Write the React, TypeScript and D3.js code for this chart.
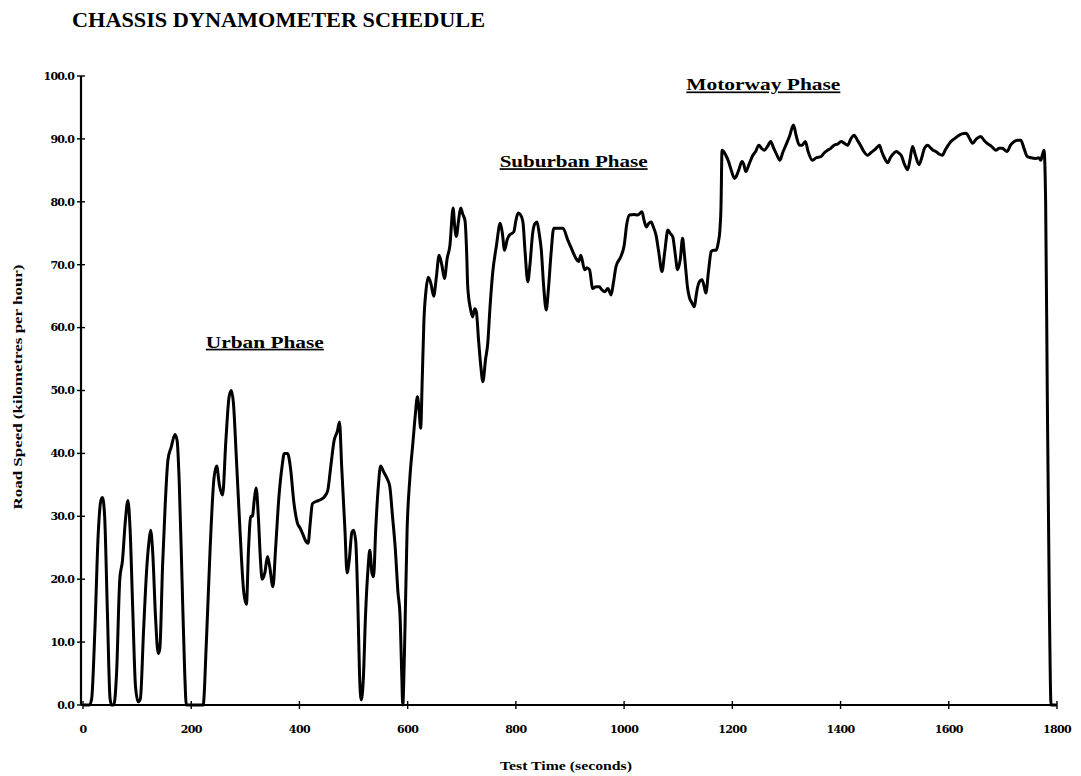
import React from 'react';
import * as d3 from 'd3';

// [time (s), road speed (km/h)]
const urbanPhase: [number, number][] = [
  [0, 0], [12, 0], [16, 1], [22, 12], [28, 27], [33, 32.5], [36, 33], [40, 30], [45, 15], [50, 1], [53, 0],
  [57, 0], [62, 5], [68, 20], [73, 23], [78, 29], [83, 32.5], [87, 28], [92, 15], [97, 3], [102, 0.5],
  [106, 1], [112, 12], [118, 22], [122, 26], [125, 27.8], [129, 24], [134, 14], [139, 8.2], [142, 9],
  [147, 22], [152, 32], [157, 39], [163, 41], [170, 43], [174, 42], [178, 35], [183, 20], [188, 5], [191, 0],
  [222, 0], [228, 10], [235, 25], [242, 36], [247, 38], [252, 35], [258, 33.4], [264, 42], [270, 49],
  [274, 50], [278, 48], [283, 40], [290, 28], [297, 18], [302, 16], [306, 25], [310, 30], [313, 30],
  [317, 33], [320, 34.5], [324, 30], [328, 23], [331, 20], [336, 21], [341, 23.6], [345, 22], [351, 18.8],
  [356, 25], [362, 33], [368, 38], [372, 40], [378, 40], [383, 38], [390, 32], [396, 29], [402, 28],
  [407, 27], [412, 26], [416, 25.7], [420, 29], [424, 32], [435, 32.5], [445, 33], [452, 34], [458, 38],
  [464, 42], [470, 43.5], [474, 45], [478, 38], [484, 28], [488, 21], [492, 23], [497, 27.5], [500, 27.8],
  [504, 26], [508, 16], [511, 5], [514, 0.8], [518, 4], [522, 14], [527, 22], [530, 24.6], [534, 21],
  [537, 20.4], [541, 28], [546, 35], [550, 38], [556, 37], [562, 36], [567, 34.7], [572, 30], [577, 25],
  [582, 18], [586, 14], [589, 5], [591, 0],
];

const suburbanPhase: [number, number][] = [
  [594, 8], [599, 28], [604, 36], [610, 42], [614, 46], [618, 49], [621, 47], [624, 44], [627, 52],
  [630, 61], [634, 66], [638, 68], [643, 67], [648, 65], [653, 68], [658, 71.5], [663, 70], [668, 67.8],
  [673, 71], [678, 73], [684, 79], [687, 76], [690, 74.5], [694, 77], [698, 79], [702, 78], [706, 77],
  [709, 72], [711, 66.5], [716, 63], [720, 61.7], [724, 63], [727, 62.5], [731, 58], [735, 54], [739, 51.4],
  [744, 55], [748, 57.5], [752, 63], [757, 68.6], [764, 73], [771, 76.6], [775, 75], [779, 72.3], [784, 74],
  [788, 74.7], [796, 75.2], [800, 77], [804, 78.2], [808, 78], [813, 76.8], [817, 72], [822, 67.3],
  [826, 70], [831, 75], [835, 76.5], [839, 76.8], [843, 75], [847, 72.3], [851, 67], [856, 62.8], [860, 66],
  [865, 71.8], [870, 75.8], [878, 75.8], [887, 75.8], [896, 73.9], [903, 72.5], [911, 71], [916, 70.5],
  [920, 71.5], [927, 69.2], [931, 69.5], [936, 69.2], [942, 66.2], [948, 66.5], [954, 66.5], [959, 66],
  [964, 65.7], [970, 66.2], [976, 65.2], [980, 67], [985, 69.7], [994, 71.3], [1000, 73], [1005, 76.5],
  [1010, 77.9], [1018, 78], [1025, 77.9], [1033, 78.4], [1037, 77], [1041, 76], [1045, 76.5], [1050, 76.8],
  [1054, 76], [1059, 74.7], [1064, 72], [1070, 68.9], [1075, 72], [1081, 75.5], [1085, 75], [1090, 74.4],
  [1094, 72], [1099, 69.2], [1104, 71], [1108, 74.2], [1111, 72], [1114, 69.2], [1117, 66.5], [1121, 64.7],
  [1125, 64], [1130, 63.3], [1133, 65], [1136, 66.5], [1140, 67.4], [1144, 67.6], [1148, 66.5], [1151, 65.5],
  [1156, 69], [1161, 72.1], [1165, 72.3], [1170, 72.3], [1174, 73.5], [1177, 75.5], [1179, 79],
];

const motorwayPhase: [number, number][] = [
  [1181, 88.2], [1184, 88], [1188, 87.4], [1193, 86.4], [1198, 85], [1204, 83.7], [1207, 84], [1212, 85.1],
  [1218, 86.4], [1221, 86], [1225, 84.8], [1231, 86], [1238, 87.4], [1243, 88], [1249, 89], [1254, 88.5],
  [1259, 88.2], [1265, 88.8], [1271, 89.6], [1276, 88.6], [1282, 87.5], [1288, 86.6], [1293, 87.8],
  [1299, 89], [1306, 90.5], [1313, 92.2], [1318, 90.5], [1324, 89], [1329, 89], [1335, 89.6], [1340, 88],
  [1348, 86.6], [1355, 87], [1364, 87.2], [1370, 87.8], [1376, 88.2], [1382, 88.5], [1388, 89], [1395, 89.2],
  [1401, 89.6], [1407, 89.3], [1413, 89], [1419, 90], [1425, 90.6], [1431, 89.8], [1438, 88.8], [1443, 88],
  [1450, 87.4], [1456, 87.8], [1462, 88.2], [1467, 88.6], [1472, 89], [1476, 88], [1481, 87], [1487, 86.2],
  [1492, 87], [1497, 87.6], [1503, 88], [1507, 87.8], [1512, 87.4], [1518, 86], [1524, 85.1], [1528, 86.5],
  [1533, 88.8], [1538, 87.5], [1545, 85.9], [1550, 87], [1555, 88.5], [1561, 89], [1566, 88.6], [1571, 88.2],
  [1576, 88], [1582, 87.6], [1588, 87.4], [1594, 88.3], [1599, 89], [1604, 89.6], [1610, 90], [1616, 90.4],
  [1624, 90.8], [1632, 90.9], [1637, 90.3], [1644, 89.3], [1651, 90], [1659, 90.4], [1665, 89.8],
  [1671, 89.3], [1679, 88.8], [1687, 88.2], [1693, 88.5], [1699, 88.5], [1704, 88.2], [1708, 88],
  [1714, 89], [1721, 89.6], [1727, 89.8], [1733, 89.8], [1739, 88.5], [1745, 87.2], [1752, 87], [1761, 86.9],
  [1766, 87], [1770, 86.6], [1773, 87.5], [1776, 88.2], [1779, 80], [1782, 50], [1786, 15], [1789, 0], [1800, 0],
];

const xTicks = [0, 200, 400, 600, 800, 1000, 1200, 1400, 1600, 1800];
const yTicks = [0, 10, 20, 30, 40, 50, 60, 70, 80, 90, 100];

const phaseLabels = [
  { text: 'Urban Phase', t: 227, v: 56.8, width: 118 },
  { text: 'Suburban Phase', t: 770, v: 85.5, width: 148 },
  { text: 'Motorway Phase', t: 1115, v: 97.7, width: 154 },
];

const serif = '"Liberation Serif", "DejaVu Serif", serif';
const tickFont = '"DejaVu Serif", serif';

export default function App() {
  const x = d3.scaleLinear().domain([0, 1800]).range([83, 1057]);
  const y = d3.scaleLinear().domain([0, 100]).range([705, 76]);

  const data = [...urbanPhase, ...suburbanPhase, ...motorwayPhase];
  const line = d3
    .line<[number, number]>()
    .x((d) => x(d[0]))
    .y((d) => y(d[1]))
    .curve(d3.curveMonotoneX);

  return (
    <svg
      width={1081}
      height={776}
      style={{ position: 'absolute', left: 0, top: 0, background: '#fff' }}
    >
      <text x={72} y={27} fontFamily={serif} fontWeight="bold" fontSize={22} textLength={413} lengthAdjust="spacingAndGlyphs">
        CHASSIS DYNAMOMETER SCHEDULE
      </text>

      {/* y axis */}
      <line x1={x(0) - 2} x2={x(0) - 2} y1={y(100)} y2={y(0)} stroke="#000" strokeWidth={2.2} />
      {yTicks.map((t) => (
        <g key={t}>
          <line x1={x(0) - 6} x2={x(0) + 2} y1={y(t)} y2={y(t)} stroke="#000" strokeWidth={1.4} />
          <text
            x={x(0) - 9}
            y={y(t)}
            dy="0.35em"
            textAnchor="end"
            fontFamily={tickFont}
            fontWeight="bold"
            fontSize={11}
            letterSpacing={-0.8}
          >
            {t.toFixed(1)}
          </text>
        </g>
      ))}

      {/* x axis */}
      <line x1={x(0) - 2} x2={x(1800)} y1={y(0)} y2={y(0)} stroke="#000" strokeWidth={2.2} />
      {xTicks.map((t) => (
        <g key={t}>
          <line x1={x(t)} x2={x(t)} y1={y(0) - 4} y2={y(0) + 4} stroke="#000" strokeWidth={1.4} />
          <text
            x={x(t)}
            y={733}
            textAnchor="middle"
            fontFamily={tickFont}
            fontWeight="bold"
            fontSize={11}
            letterSpacing={-0.6}
          >
            {t}
          </text>
        </g>
      ))}

      <path d={line(data) ?? ''} fill="none" stroke="#000" strokeWidth={3} strokeLinejoin="round" />

      {phaseLabels.map((p) => (
        <text
          key={p.text}
          x={x(p.t)}
          y={y(p.v)}
          fontFamily={serif}
          fontWeight="bold"
          fontSize={17}
          textDecoration="underline"
          textLength={p.width}
          lengthAdjust="spacingAndGlyphs"
        >
          {p.text}
        </text>
      ))}

      <text
        transform={`translate(22, 387) rotate(-90)`}
        textAnchor="middle"
        fontFamily={serif}
        fontWeight="bold"
        fontSize={12}
        textLength={245}
        lengthAdjust="spacingAndGlyphs"
      >
        Road Speed (kilometres per hour)
      </text>
      <text
        x={566}
        y={770}
        textAnchor="middle"
        fontFamily={serif}
        fontWeight="bold"
        fontSize={13}
        textLength={132}
        lengthAdjust="spacingAndGlyphs"
      >
        Test Time (seconds)
      </text>
    </svg>
  );
}
